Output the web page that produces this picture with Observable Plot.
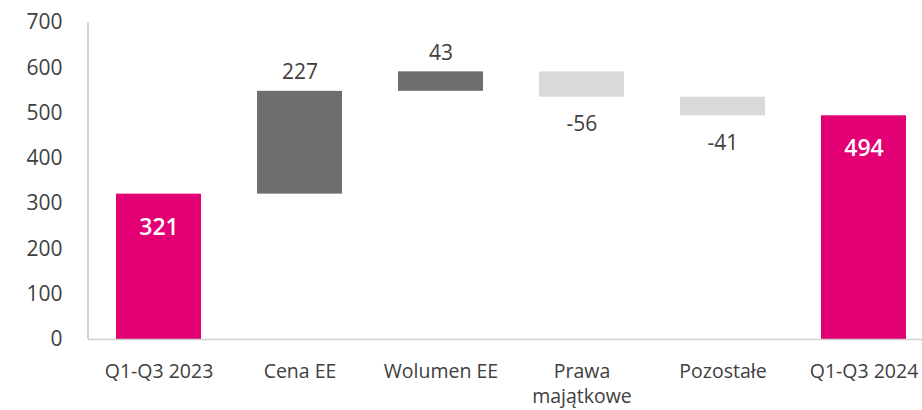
<!DOCTYPE html>
<html>
<head>
<meta charset="utf-8">
<script src="https://cdn.jsdelivr.net/npm/d3@7"></script>
<script src="https://cdn.jsdelivr.net/npm/@observablehq/plot@0.6"></script>
<style>
  html, body { margin: 0; padding: 0; background: #fff; }
  svg { display: block; }
</style>
</head>
<body>
<div id="chart"></div>
<script>
const categories = ["Q1-Q3 2023", "Cena EE", "Wolumen EE", "Prawa majątkowe", "Pozostałe", "Q1-Q3 2024"];
const values = [321, 227, 43, -56, -41, 494];
const kinds = ["total", "delta", "delta", "delta", "delta", "total"];
const yTicks = [0, 100, 200, 300, 400, 500, 600, 700];

const colors = { total: "#e20074", up: "#6e6e6e", down: "#d9d9d9" };

let running = 0;
const data = categories.map((c, i) => {
  const v = values[i];
  let start, end, kind;
  if (kinds[i] === "total") {
    start = 0; end = v; running = v; kind = "total";
  } else {
    start = running; end = running + v; running = end; kind = v >= 0 ? "up" : "down";
  }
  return { cat: c, value: v, start, end, top: Math.max(start, end), bottom: Math.min(start, end), kind };
});

const font = "'Open Sans', sans-serif";
const textColor = "#404040";

const chart = Plot.plot({
  width: 922,
  height: 410,
  marginTop: 22,
  marginBottom: 71,
  marginLeft: 88,
  marginRight: 0,
  style: { fontFamily: font, background: "#fff" },
  x: { domain: categories, range: [88, 934], paddingInner: 0.4, paddingOuter: 0.2, label: null },
  y: { domain: [0, 700], label: null },
  marks: [
    Plot.barY(data, { x: "cat", y1: "start", y2: "end", fill: d => colors[d.kind] }),
    Plot.ruleY([0], { stroke: "#cfcfcf", strokeWidth: 1.5 }),
    (index, scales, values, dims) => {
      const ns = "http://www.w3.org/2000/svg";
      const line = document.createElementNS(ns, "line");
      const x = dims.marginLeft;
      line.setAttribute("x1", x); line.setAttribute("x2", x);
      line.setAttribute("y1", scales.y(700)); line.setAttribute("y2", scales.y(0));
      line.setAttribute("stroke", "#c4c4c4");
      line.setAttribute("stroke-width", 1.5);
      return line;
    },
    Plot.axisY({ ticks: yTicks, tickSize: 0, tickPadding: 26, fontSize: 21, fill: textColor, label: null }),
    Plot.axisX({ tickSize: 0, tickPadding: 20, fontSize: 19.5, fill: textColor, lineHeight: 1.3, label: null,
      tickFormat: d => d === "Prawa majątkowe" ? "Prawa\nmajątkowe" : d }),
    Plot.text(data.filter(d => d.kind === "up"), { x: "cat", y: "top", text: d => String(d.value), dy: -19, fontSize: 21, fill: textColor }),
    Plot.text(data.filter(d => d.kind === "down"), { x: "cat", y: "bottom", text: d => String(d.value), dy: 27, fontSize: 21, fill: textColor }),
    Plot.text(data.filter(d => d.kind === "total"), { x: "cat", y: "top", text: d => String(d.value), dy: 33, fontSize: 23, fontWeight: 600, fill: "#ffffff" })
  ]
});

document.getElementById("chart").appendChild(chart);
</script>
</body>
</html>
